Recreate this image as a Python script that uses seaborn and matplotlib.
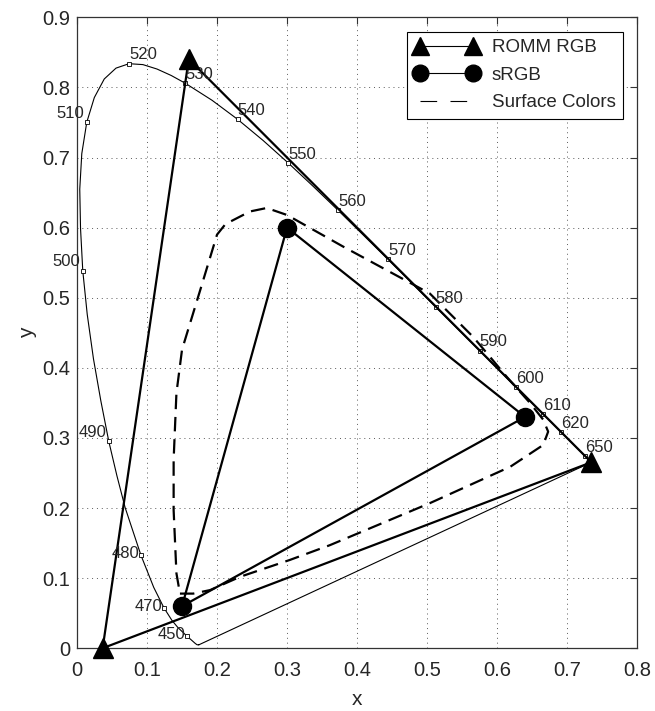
import numpy as np
import pandas as pd
import matplotlib
matplotlib.use("Agg")
import matplotlib.pyplot as plt
from matplotlib.lines import Line2D
import seaborn as sns

# CIE 1931 spectral locus (wavelength, x, y)
wl = [380, 400, 420, 430, 440, 450, 460, 465, 470, 475, 480, 485, 487.5, 490, 492.5,
      495, 497.5, 500, 502.5, 505, 507.5, 510, 512.5, 515, 517.5, 520, 522.5, 525,
      527.5, 530, 535, 540, 545, 550, 555, 560, 565, 570, 575, 580, 585, 590,
      595, 600, 605, 610, 620, 630, 640, 650, 660, 680, 700]
loc_x = [0.1741, 0.1733, 0.1714, 0.1689, 0.1644, 0.1566, 0.1440, 0.1355, 0.1241, 0.1096,
         0.0913, 0.0687, 0.0570, 0.0454, 0.0340, 0.0235, 0.0146, 0.0082, 0.0050, 0.0039,
         0.0068, 0.0139, 0.0247, 0.0389, 0.0557, 0.0743, 0.0941, 0.1142, 0.1345, 0.1547,
         0.1929, 0.2296, 0.2658, 0.3016, 0.3373, 0.3731, 0.4087, 0.4441, 0.4788, 0.5125,
         0.5448, 0.5752, 0.6029, 0.6270, 0.6482, 0.6658, 0.6915, 0.7079, 0.7190, 0.7260,
         0.7300, 0.7334, 0.7347]
loc_y = [0.0050, 0.0048, 0.0051, 0.0069, 0.0109, 0.0177, 0.0297, 0.0399, 0.0578, 0.0868,
         0.1327, 0.2007, 0.2460, 0.2950, 0.3530, 0.4127, 0.4760, 0.5384, 0.5990, 0.6548,
         0.7055, 0.7502, 0.7855, 0.8120, 0.8275, 0.8338, 0.8325, 0.8262, 0.8170, 0.8059,
         0.7816, 0.7543, 0.7243, 0.6923, 0.6589, 0.6245, 0.5896, 0.5547, 0.5202, 0.4866,
         0.4544, 0.4242, 0.3965, 0.3725, 0.3514, 0.3340, 0.3083, 0.2920, 0.2809, 0.2740,
         0.2700, 0.2666, 0.2653]

labels_right = [520, 530, 540, 550, 560, 570, 580, 590, 600, 610, 620, 650]
labels_left_up = [510, 500, 490]
labels_left_mid = [480, 470, 450]

# primaries
romm_x = [0.7347, 0.1596, 0.0366]
romm_y = [0.2653, 0.8404, 0.0001]
srgb_x = [0.64, 0.30, 0.15]
srgb_y = [0.33, 0.60, 0.06]

# surface colours boundary
surf_x = [0.147, 0.166, 0.190, 0.233, 0.304, 0.361, 0.504, 0.619, 0.666, 0.673, 0.666,
          0.647, 0.614, 0.566, 0.504, 0.380, 0.300, 0.271, 0.247, 0.212, 0.200, 0.176,
          0.150, 0.142, 0.138, 0.138, 0.142, 0.147]
surf_y = [0.078, 0.078, 0.083, 0.102, 0.126, 0.147, 0.207, 0.259, 0.290, 0.309, 0.326,
          0.350, 0.387, 0.444, 0.506, 0.573, 0.618, 0.628, 0.623, 0.605, 0.590, 0.511,
          0.426, 0.364, 0.269, 0.197, 0.107, 0.078]

sns.set_style("white")
plt.rcParams['font.family'] = ['Liberation Sans', 'DejaVu Sans']
plt.rcParams['xtick.direction'] = 'in'
plt.rcParams['ytick.direction'] = 'in'

fig = plt.figure(figsize=(6.55, 7.11), dpi=100)
ax = fig.add_axes([0.1176, 0.0882, 0.855, 0.8875])

# spectral locus, closed by the purple line
lx = loc_x + [loc_x[0]]
ly = loc_y + [loc_y[0]]
sns.lineplot(x=lx, y=ly, sort=False, estimator=None, color='black', lw=0.8, ax=ax)

locus = pd.DataFrame({'wl': wl, 'x': loc_x, 'y': loc_y}).set_index('wl')
marked = locus.loc[labels_right + labels_left_up + labels_left_mid]
ax.plot(marked['x'], marked['y'], ls='none', marker='s', ms=2.5, mfc='white',
        mec='black', mew=0.6)

lab_fs = 12
for w in labels_right:
    ax.annotate(str(w), (locus.loc[w, 'x'], locus.loc[w, 'y']), xytext=(0, 1),
                textcoords='offset points', ha='left', va='bottom', fontsize=lab_fs)
for w in labels_left_up:
    ax.annotate(str(w), (locus.loc[w, 'x'], locus.loc[w, 'y']), xytext=(-2, 1),
                textcoords='offset points', ha='right', va='bottom', fontsize=lab_fs)
for w in labels_left_mid:
    ax.annotate(str(w), (locus.loc[w, 'x'], locus.loc[w, 'y']), xytext=(-1, 1),
                textcoords='offset points', ha='right', va='center', fontsize=lab_fs)

# surface colours
sns.lineplot(x=surf_x, y=surf_y, sort=False, estimator=None, color='black', lw=1.6,
             ax=ax)
ax.lines[-1].set_dashes((6.5, 3.5))

# gamut triangles
sns.lineplot(x=romm_x + [romm_x[0]], y=romm_y + [romm_y[0]], sort=False, estimator=None,
             color='black', lw=1.6, ax=ax)
ax.plot(romm_x, romm_y, ls='none', marker='^', ms=14, color='black', clip_on=False,
        zorder=5)
sns.lineplot(x=srgb_x + [srgb_x[0]], y=srgb_y + [srgb_y[0]], sort=False, estimator=None,
             color='black', lw=1.6, ax=ax)
ax.plot(srgb_x, srgb_y, ls='none', marker='o', ms=13, color='black', clip_on=False,
        zorder=5)

ax.set_xlim(0, 0.8)
ax.set_ylim(0, 0.9)
xt = np.round(np.arange(0, 0.81, 0.1), 1)
yt = np.round(np.arange(0, 0.91, 0.1), 1)
ax.set_xticks(xt)
ax.set_yticks(yt)
ax.set_xticklabels(['0' if v == 0 else f'{v:g}' for v in xt], fontsize=14.5)
ax.set_yticklabels(['0' if v == 0 else f'{v:g}' for v in yt], fontsize=14.5)
ax.tick_params(top=True, right=True, length=5, width=0.8, color='0.2')
ax.tick_params(axis='x', pad=9)
ax.tick_params(axis='y', pad=5)
ax.grid(True, color='0.35', linestyle=(0, (1, 4)), lw=0.7)
for s in ax.spines.values():
    s.set_color('0.2')
    s.set_linewidth(0.9)

ax.set_xlabel('x', fontsize=15, labelpad=7)
ax.set_ylabel('y', fontsize=15, labelpad=4)

handles = [
    Line2D([], [], color='black', lw=0.8, marker='^', ms=13),
    Line2D([], [], color='black', lw=0.8, marker='o', ms=12),
    Line2D([], [], color='black', lw=0.8, dashes=(15, 12)),
]
leg = ax.legend(handles, ['ROMM RGB', 'sRGB', 'Surface Colors'], loc='upper right',
                bbox_to_anchor=(0.975, 0.977), numpoints=2, fontsize=13.5,
                frameon=True, fancybox=False, edgecolor='black', framealpha=1,
                handlelength=3.4, borderpad=0.4, labelspacing=0.55, handletextpad=0.7,
                borderaxespad=0)
leg.get_frame().set_linewidth(0.8)

fig.savefig('out.png', dpi=100)
